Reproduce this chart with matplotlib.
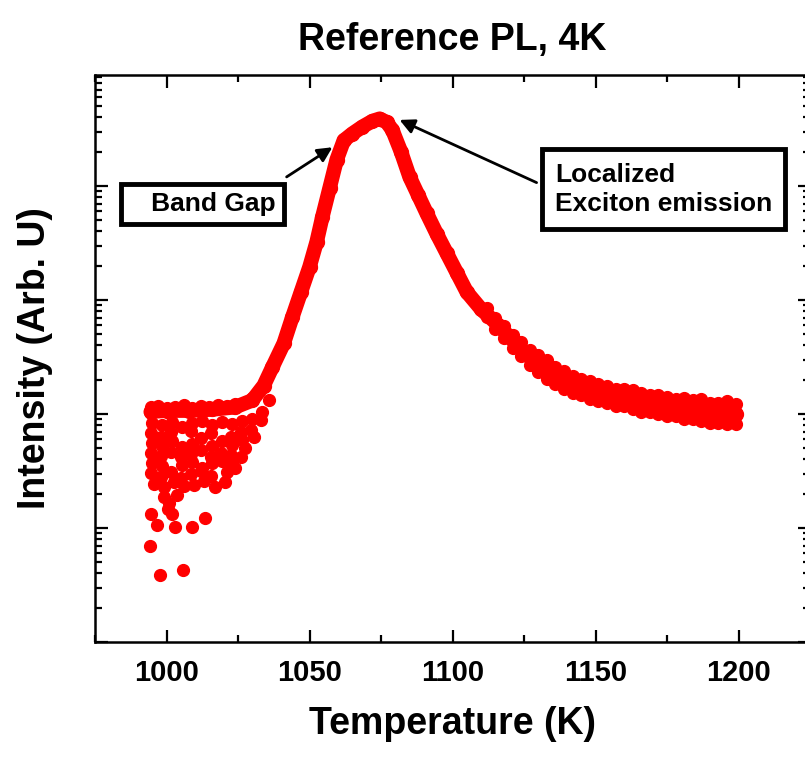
import matplotlib
matplotlib.use("Agg")
import matplotlib.pyplot as plt
from matplotlib.ticker import LogLocator, MultipleLocator, NullFormatter
import numpy as np

plt.rcParams['font.family'] = ['Liberation Sans', 'DejaVu Sans']
plt.rcParams['font.weight'] = 'bold'

# main PL curve (temperature in K, log10 of intensity)
main_temp = [994.5, 1000, 1008, 1016, 1024, 1030, 1034, 1037, 1041, 1044,
             1047, 1050, 1052.5, 1054.5, 1057, 1059.5, 1062, 1065, 1068.5,
             1072, 1074.5, 1077, 1079, 1082, 1085, 1088, 1091, 1094.5,
             1098, 1101.5, 1105, 1110, 1116, 1122, 1127, 1134, 1141, 1150,
             1158, 1167, 1176, 1185, 1193, 1199]
main_log = [2.02, 2.03, 2.03, 2.04, 2.06, 2.12, 2.25, 2.41, 2.62, 2.85,
            3.07, 3.29, 3.51, 3.73, 3.98, 4.23, 4.40, 4.46, 4.52,
            4.57, 4.59, 4.56, 4.49, 4.30, 4.08, 3.92, 3.76, 3.58,
            3.41, 3.24, 3.07, 2.92, 2.78, 2.62, 2.50, 2.37, 2.27, 2.20,
            2.15, 2.10, 2.06, 2.03, 2.01, 2.00]

# noisy flat band at low temperature (upper edge)
band_temp = [994.5, 997, 1000, 1003, 1006, 1009, 1012, 1015, 1018, 1021, 1024, 1027, 1030]
band_hi = [2.06, 2.07, 2.05, 2.06, 2.08, 2.05, 2.07, 2.06, 2.08, 2.07, 2.09, 2.10, 2.14]

# scattered noise points below the band
noise_temp = [995, 998.5, 1002, 1005.5, 1009, 1012.5, 1016, 1019.5, 1023, 1026.5, 1030, 1033.5, 1036,
              994.5, 998, 1001.5, 1008.5, 1012, 1015.5, 1022.5, 1026, 1029.5, 1033,
              995, 998.5, 1002, 1005.5, 1009, 1016, 1019.5, 1023, 1026.5, 1030.5,
              994.5, 998, 1001.5, 1005, 1008.5, 1012, 1015.5, 1019, 1022.5, 1027.5,
              995, 998.5, 1005.5, 1009, 1012.5, 1016, 1019.5, 1023, 1026,
              994.5, 998, 1001.5, 1005, 1008.5, 1012, 1015.5, 1021, 1024,
              995.5, 999, 1002.5, 1006, 1009.5, 1013, 1017, 1020.5,
              999, 1001, 1003.5, 1000.5, 1002,
              994.5, 996.6, 1003, 1008.9, 1013.3, 994.4, 997.8, 1005.7]
noise_log = [1.92, 1.90, 1.93, 1.89, 1.92, 1.94, 1.90, 1.93, 1.91, 1.94, 1.96, 2.02, 2.12,
             1.83, 1.80, 1.84, 1.85, 1.79, 1.83, 1.80, 1.84, 1.86, 1.95,
             1.75, 1.72, 1.76, 1.71, 1.74, 1.72, 1.76, 1.73, 1.77, 1.80,
             1.66, 1.63, 1.67, 1.62, 1.65, 1.68, 1.62, 1.66, 1.64, 1.70,
             1.57, 1.54, 1.55, 1.58, 1.53, 1.57, 1.59, 1.56, 1.62,
             1.48, 1.45, 1.49, 1.44, 1.47, 1.50, 1.46, 1.49, 1.53,
             1.39, 1.36, 1.40, 1.37, 1.38, 1.41, 1.36, 1.40,
             1.27, 1.22, 1.29, 1.17, 1.12,
             1.12, 1.03, 1.01, 1.01, 1.09, 0.84, 0.59, 0.63]

# tail band thickness (upper / lower edge)
tail_temp = [1112, 1115, 1118, 1121, 1124, 1127, 1130, 1133, 1136, 1139,
             1142, 1145, 1148, 1151, 1154, 1157, 1160, 1163, 1166, 1169,
             1172, 1175, 1178, 1181, 1184, 1187, 1190, 1193, 1196, 1199]
tail_hi = [2.93, 2.84, 2.77, 2.69, 2.63, 2.56, 2.52, 2.47, 2.41, 2.38,
           2.33, 2.31, 2.29, 2.26, 2.25, 2.22, 2.22, 2.21, 2.18, 2.17,
           2.17, 2.15, 2.13, 2.14, 2.12, 2.13, 2.10, 2.10, 2.11, 2.09]
tail_lo = [2.85, 2.75, 2.67, 2.58, 2.51, 2.43, 2.37, 2.31, 2.26, 2.22,
           2.18, 2.17, 2.13, 2.11, 2.10, 2.07, 2.07, 2.04, 2.02, 2.02,
           2.00, 1.98, 1.98, 1.96, 1.96, 1.94, 1.92, 1.92, 1.91, 1.91]

red = '#ff0000'
ms = 8.5

fig = plt.figure(figsize=(8.05, 7.59), dpi=100)
ax = fig.add_axes([95 / 805, 1 - 642 / 759, 715 / 805, 567 / 759])

ax.plot(main_temp, np.power(10, main_log), color=red, lw=10.5, marker='o', ms=10,
        solid_joinstyle='round', solid_capstyle='round')
for t, v in [(band_temp, band_hi), (tail_temp, tail_hi),
             (tail_temp, tail_lo), (noise_temp, noise_log)]:
    ax.plot(t, np.power(10, v), ls='none', marker='o', ms=ms, color=red)

ax.set_yscale('log')
ax.set_xlim(975, 1225)
ax.set_ylim(1, 10 ** 4.974)
ax.xaxis.set_major_locator(MultipleLocator(50))
ax.xaxis.set_minor_locator(MultipleLocator(25))
ax.yaxis.set_major_locator(LogLocator(base=10))
ax.yaxis.set_minor_locator(LogLocator(base=10, subs=np.arange(2, 10)))
ax.yaxis.set_major_formatter(NullFormatter())
ax.yaxis.set_minor_formatter(NullFormatter())
ax.tick_params(which='both', direction='in', top=True, right=True, width=1.6)
ax.tick_params(which='major', length=9, labelsize=21, pad=12)
ax.tick_params(which='minor', length=5)
for lab in ax.get_xticklabels():
    lab.set_fontweight('bold')
for s in ax.spines.values():
    s.set_linewidth(1.8)

ax.set_xlabel('Temperature (K)', fontsize=27, fontweight='bold', labelpad=14)
ax.set_ylabel('Intensity (Arb. U)', fontsize=27, fontweight='bold', labelpad=18)
ax.set_title('Reference PL, 4K', fontsize=27, fontweight='bold', pad=18)

arrow = dict(arrowstyle='-|>', color='black', lw=2, mutation_scale=22,
             shrinkA=0, shrinkB=0)
ax.annotate('', xy=(1058.0, 10 ** 4.34), xytext=(1042.0, 10 ** 4.08), arrowprops=arrow)
ax.annotate('', xy=(1081.5, 10 ** 4.58), xytext=(1129.4, 10 ** 4.03), arrowprops=arrow)

ax.text(1012.6, 10 ** 3.84, '   Band Gap', fontsize=19, fontweight='bold',
        ha='center', va='center',
        bbox=dict(boxstyle='square,pad=0.3', fc='white', ec='black', lw=3.5))
ax.text(1135.8, 10 ** 3.97, 'Localized\nExciton emission', fontsize=19,
        fontweight='bold', ha='left', va='center', linespacing=1.3,
        bbox=dict(boxstyle='square,pad=0.5', fc='white', ec='black', lw=3.5))

fig.savefig('out.png', dpi=100)
